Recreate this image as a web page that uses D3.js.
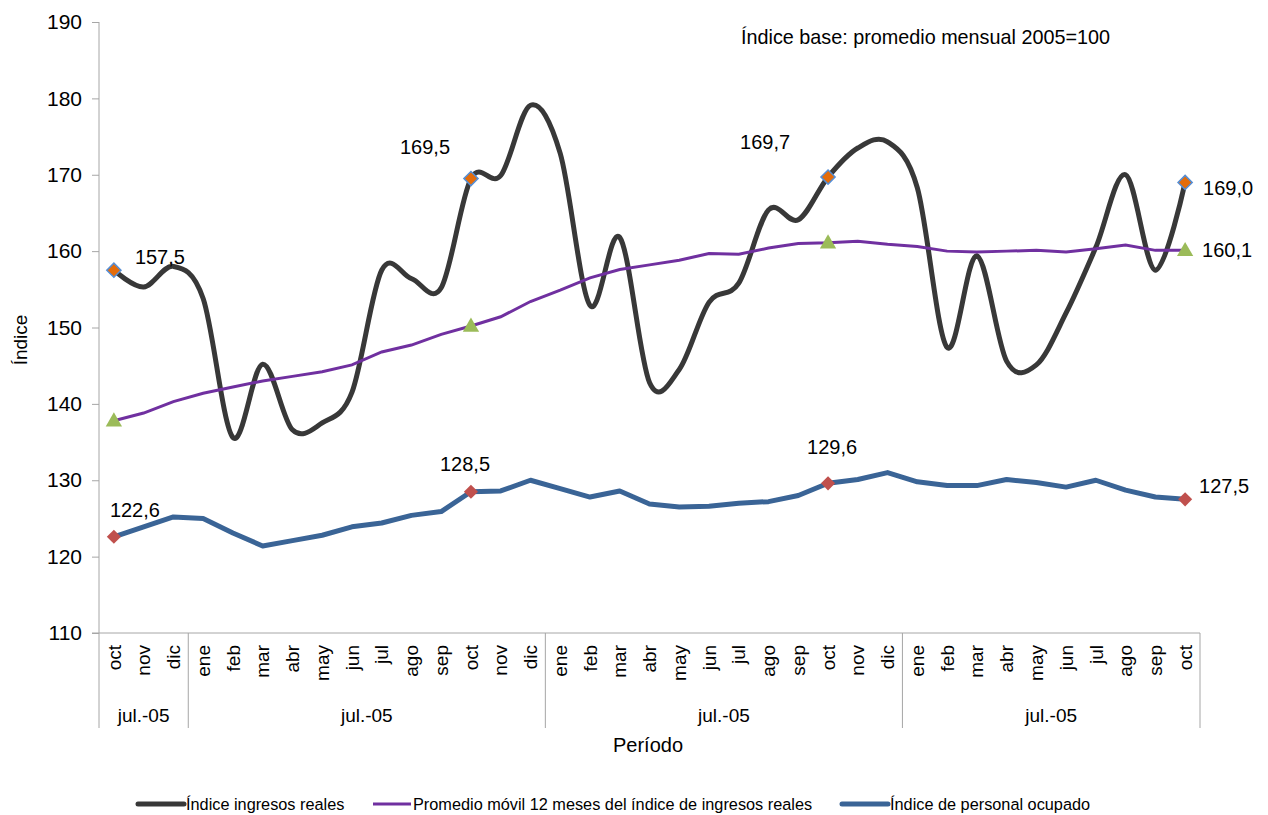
<!DOCTYPE html>
<html>
<head>
<meta charset="utf-8">
<script src="https://cdn.jsdelivr.net/npm/d3@7"></script>
<style>
  body { margin: 0; background: #fff; }
  svg text { font-family: "Liberation Sans", Arial, sans-serif; fill: #000; }
</style>
</head>
<body>
<div id="chart"></div>
<script>
// meses del periodo (oct-05 .. oct-08)
var months = ["oct","nov","dic",
  "ene","feb","mar","abr","may","jun","jul","ago","sep","oct","nov","dic",
  "ene","feb","mar","abr","may","jun","jul","ago","sep","oct","nov","dic",
  "ene","feb","mar","abr","may","jun","jul","ago","sep","oct"];

// grupos del eje (etiqueta, primer indice, ultimo indice)
var groupLabels = ["jul.-05","jul.-05","jul.-05","jul.-05"];
var groupStart = [0, 3, 15, 27];
var groupEnd = [2, 14, 26, 36];

var yTicks = [110,120,130,140,150,160,170,180,190];

var ingresos = [157.5,155.3,158.0,153.8,135.6,145.2,136.6,137.5,141.5,157.5,156.4,155.2,
  169.5,169.9,179.1,172.8,152.9,161.8,142.8,144.5,153.3,155.8,165.4,164.1,
  169.7,173.5,174.3,168.3,147.4,159.4,145.6,145.1,151.9,160.5,170.0,157.5,169.0];

var promedio = [137.8,138.8,140.3,141.4,142.2,143.0,143.6,144.2,145.1,146.8,147.7,149.1,
  150.2,151.4,153.4,154.9,156.5,157.6,158.2,158.8,159.7,159.6,160.4,161.0,
  161.1,161.3,160.9,160.6,160.0,159.9,160.0,160.1,159.9,160.3,160.8,160.1,160.1];

var personal = [122.6,123.9,125.2,125.0,123.1,121.4,122.1,122.8,123.9,124.4,125.4,125.9,
  128.5,128.6,130.0,128.9,127.8,128.6,126.9,126.5,126.6,127.0,127.2,128.0,
  129.6,130.1,131.0,129.8,129.3,129.3,130.1,129.7,129.1,130.0,128.7,127.8,127.5];

var markIdx = [0, 12, 24, 36];

var seriesNames = ["Índice ingresos reales",
  "Promedio móvil 12 meses del índice de ingresos reales",
  "Índice de personal ocupado"];

var width = 1268, height = 815;
var fmt = function(v){ return d3.format(".1f")(v).replace(".", ","); };

var svg = d3.select("#chart").append("svg")
  .attr("width", width).attr("height", height);

var x = d3.scaleBand().domain(d3.range(months.length)).range([99, 1200]).padding(0);
var cx = function(i){ return x(i) + x.bandwidth() / 2; };
var y = d3.scaleLinear().domain([110, 190]).range([633, 22]);

// eje y
var yAxis = svg.append("g").attr("transform", "translate(99,0)")
  .call(d3.axisLeft(y).tickValues(yTicks).tickSize(7).tickPadding(10).tickFormat(d3.format("d")));
yAxis.selectAll("path, line").attr("stroke", "#a6a6a6");
yAxis.select(".domain").attr("d", "M0," + y(110) + "V" + y(190));
yAxis.selectAll("text").style("font-size", "21px").style("font-family", "Liberation Sans, Arial");

svg.append("text").attr("transform", "translate(27,340) rotate(-90)")
  .attr("text-anchor", "middle").style("font-size", "19px").text("Índice");

// eje x
svg.append("line").attr("x1", 92).attr("x2", 1200).attr("y1", y(110)).attr("y2", y(110))
  .attr("stroke", "#a6a6a6");

svg.selectAll(".mlabel").data(months).enter().append("text")
  .attr("class", "mlabel")
  .attr("transform", function(d, i){ return "translate(" + cx(i) + ",645) rotate(-90)"; })
  .attr("text-anchor", "end").attr("dy", "0.35em")
  .style("font-size", "19px").text(function(d){ return d; });

var dividers = groupStart.map(function(s){ return x(s); }).concat([x(groupEnd[groupEnd.length - 1]) + x.bandwidth()]);
svg.selectAll(".div").data(dividers).enter().append("line")
  .attr("x1", function(d){ return d; }).attr("x2", function(d){ return d; })
  .attr("y1", y(110)).attr("y2", 728).attr("stroke", "#a6a6a6");

svg.selectAll(".glabel").data(groupLabels).enter().append("text")
  .attr("x", function(d, i){ return (x(groupStart[i]) + x(groupEnd[i]) + x.bandwidth()) / 2; })
  .attr("y", 722).attr("text-anchor", "middle").style("font-size", "19px")
  .text(function(d){ return d; });

svg.append("text").attr("x", 648).attr("y", 752).attr("text-anchor", "middle")
  .style("font-size", "20px").text("Período");

svg.append("text").attr("x", 741).attr("y", 44).style("font-size", "19.8px")
  .text("Índice base: promedio mensual 2005=100");

// lineas
var lineSmooth = d3.line().x(function(d, i){ return cx(i); }).y(function(d){ return y(d); })
  .curve(d3.curveCatmullRom.alpha(0));
var lineStraight = d3.line().x(function(d, i){ return cx(i); }).y(function(d){ return y(d); });

svg.append("path").datum(ingresos).attr("d", lineSmooth)
  .attr("fill", "none").attr("stroke", "#383838").attr("stroke-width", 5);
svg.append("path").datum(promedio).attr("d", lineStraight)
  .attr("fill", "none").attr("stroke", "#7030a0").attr("stroke-width", 3);
svg.append("path").datum(personal).attr("d", lineStraight)
  .attr("fill", "none").attr("stroke", "#3a6496").attr("stroke-width", 5)
  .attr("stroke-linejoin", "round");

// marcadores
svg.selectAll(".mk1").data(markIdx).enter().append("path")
  .attr("d", d3.symbol().type(d3.symbolSquare).size(100))
  .attr("transform", function(i){ return "translate(" + cx(i) + "," + y(ingresos[i]) + ") rotate(45)"; })
  .attr("fill", "#e46c0a").attr("stroke", "#558ed5").attr("stroke-width", 1.5);

svg.selectAll(".mk2").data(markIdx).enter().append("path")
  .attr("transform", function(i){ return "translate(" + cx(i) + "," + (y(promedio[i]) + 1) + ")"; })
  .attr("d", d3.symbol().type(d3.symbolTriangle).size(115))
  .attr("fill", "#9bbb59");

svg.selectAll(".mk3").data(markIdx).enter().append("path")
  .attr("d", d3.symbol().type(d3.symbolSquare).size(100))
  .attr("transform", function(i){ return "translate(" + cx(i) + "," + y(personal[i]) + ") rotate(45)"; })
  .attr("fill", "#c0504d");

// etiquetas de datos: [serie, indice, dx, dy]
var labelOffsets = [
  [ingresos, 0, 21, -6], [ingresos, 12, -71, -25], [ingresos, 24, -88, -28], [ingresos, 36, 18, 13],
  [promedio, 36, 17, 7],
  [personal, 0, -4, -20], [personal, 12, -31, -21], [personal, 24, -21, -29], [personal, 36, 14, -6]
];
svg.selectAll(".dlabel").data(labelOffsets).enter().append("text")
  .attr("x", function(d){ return cx(d[1]) + d[2]; })
  .attr("y", function(d){ return y(d[0][d[1]]) + d[3]; })
  .style("font-size", "20px")
  .text(function(d){ return fmt(d[0][d[1]]); });

// leyenda
var legendColors = ["#383838", "#7030a0", "#3a6496"];
var legendWidths = [5, 3, 5];
var legendX = [138, 373, 842];
var lg = svg.selectAll(".lg").data(seriesNames).enter().append("g")
  .attr("transform", function(d, i){ return "translate(" + legendX[i] + ",804)"; });
lg.append("line").attr("x1", 0).attr("x2", function(d, i){ return i === 1 ? 38 : 46; })
  .attr("stroke", function(d, i){ return legendColors[i]; })
  .attr("stroke-width", function(d, i){ return legendWidths[i]; })
  .attr("stroke-linecap", function(d, i){ return i === 1 ? "butt" : "round"; });
lg.append("text").attr("x", function(d, i){ return i === 1 ? 40 : 48; }).attr("dy", "0.35em")
  .style("font-size", "16.3px").text(function(d){ return d; });
</script>
</body>
</html>
